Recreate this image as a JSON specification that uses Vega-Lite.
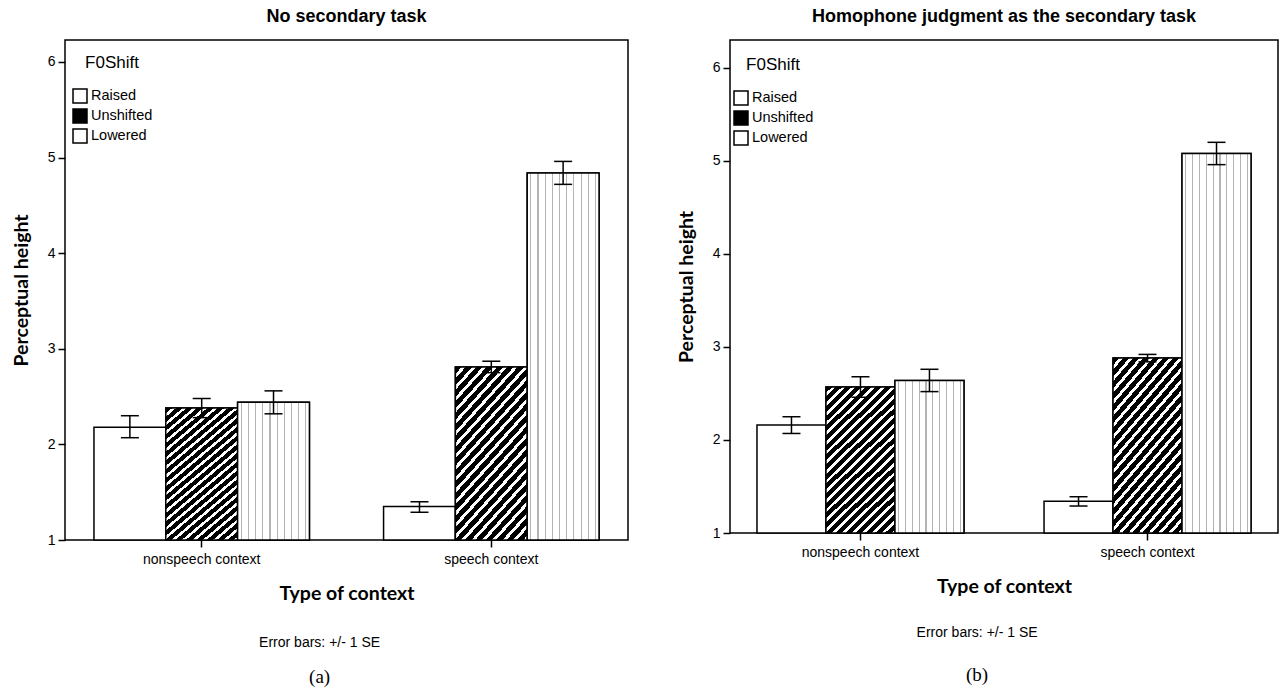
{
  "$schema": "https://vega.github.io/schema/vega-lite/v6.json",
  "padding": {"left": 10, "top": 7, "right": 2, "bottom": 2},
  "background": "white",
  "datasets": {
    "a": [
      {"context": "nonspeech context", "shift": "Raised", "mean": 2.18, "lo": 2.07, "hi": 2.30},
      {"context": "nonspeech context", "shift": "Unshifted", "mean": 2.38, "lo": 2.28, "hi": 2.48},
      {"context": "nonspeech context", "shift": "Lowered", "mean": 2.44, "lo": 2.32, "hi": 2.56},
      {"context": "speech context", "shift": "Raised", "mean": 1.35, "lo": 1.29, "hi": 1.40},
      {"context": "speech context", "shift": "Unshifted", "mean": 2.81, "lo": 2.75, "hi": 2.87},
      {"context": "speech context", "shift": "Lowered", "mean": 4.84, "lo": 4.72, "hi": 4.96}
    ],
    "b": [
      {"context": "nonspeech context", "shift": "Raised", "mean": 2.16, "lo": 2.07, "hi": 2.25},
      {"context": "nonspeech context", "shift": "Unshifted", "mean": 2.57, "lo": 2.46, "hi": 2.68},
      {"context": "nonspeech context", "shift": "Lowered", "mean": 2.64, "lo": 2.52, "hi": 2.76},
      {"context": "speech context", "shift": "Raised", "mean": 1.34, "lo": 1.29, "hi": 1.39},
      {"context": "speech context", "shift": "Unshifted", "mean": 2.88, "lo": 2.84, "hi": 2.92},
      {"context": "speech context", "shift": "Lowered", "mean": 5.08, "lo": 4.96, "hi": 5.20}
    ]
  },
  "spacing": 46,
  "resolve": {"scale": {"x": "independent", "y": "independent", "fill": "independent", "xOffset": "independent"}, "legend": {"fill": "independent"}},
  "hconcat": [
    {
      "title": {"text": "Error bars: +/- 1 SE", "subtitle": "(a)", "orient": "bottom", "anchor": "middle", "font": "Liberation Sans", "fontSize": 14, "fontWeight": "normal", "subtitleFont": "Liberation Serif", "subtitleFontSize": 19, "subtitleColor": "black", "subtitlePadding": 18, "offset": 33},
      "vconcat": [
        {
          "title": {"text": "No secondary task", "offset": 14},
          "width": 563,
          "height": 500,
          "data": {"name": "a"},
          "encoding": {
            "x": {"field": "context", "type": "nominal", "scale": {"paddingInner": 0.256, "paddingOuter": 0.1}, "axis": {"title": "Type of context", "labelAngle": 0}},
            "xOffset": {"field": "shift", "type": "nominal", "sort": ["Raised", "Unshifted", "Lowered"], "scale": {"domain": ["Raised", "Unshifted", "Lowered"], "paddingInner": 0, "paddingOuter": 0}}
          },
          "layer": [
            {
              "mark": {"type": "bar", "stroke": "black", "strokeWidth": 1.5},
              "encoding": {
                "y": {"field": "mean", "type": "quantitative", "scale": {"domain": [1, 6.23], "nice": false, "zero": false}, "axis": {"title": "Perceptual height", "values": [1, 2, 3, 4, 5, 6], "format": "d"}},
                "y2": {"datum": 1},
                "fill": {"field": "shift", "type": "nominal", "sort": ["Raised", "Unshifted", "Lowered"], "scale": {"domain": ["Raised", "Unshifted", "Lowered"], "range": ["white", "black", "white"]},
                  "legend": {"title": "F0Shift", "orient": "none", "legendX": 7, "legendY": 15}}
              }
            },
            {"transform": [{"filter": "datum.shift === 'Unshifted'"}], "mark": {"type": "bar", "stroke": "black", "strokeWidth": 1.5, "color": {"gradient": "linear", "x1": 0, "y1": 0, "x2": 0.552, "y2": 1.205, "stops": [
        {"offset": 0, "color": "#000"}, {"offset": 0.028, "color": "#000"}, {"offset": 0.028, "color": "#fff"}, {"offset": 0.0455, "color": "#fff"},
        {"offset": 0.0455, "color": "#000"}, {"offset": 0.0735, "color": "#000"}, {"offset": 0.0735, "color": "#fff"}, {"offset": 0.0909, "color": "#fff"},
        {"offset": 0.0909, "color": "#000"}, {"offset": 0.1189, "color": "#000"}, {"offset": 0.1189, "color": "#fff"}, {"offset": 0.1364, "color": "#fff"},
        {"offset": 0.1364, "color": "#000"}, {"offset": 0.1644, "color": "#000"}, {"offset": 0.1644, "color": "#fff"}, {"offset": 0.1818, "color": "#fff"},
        {"offset": 0.1818, "color": "#000"}, {"offset": 0.2098, "color": "#000"}, {"offset": 0.2098, "color": "#fff"}, {"offset": 0.2273, "color": "#fff"},
        {"offset": 0.2273, "color": "#000"}, {"offset": 0.2553, "color": "#000"}, {"offset": 0.2553, "color": "#fff"}, {"offset": 0.2727, "color": "#fff"},
        {"offset": 0.2727, "color": "#000"}, {"offset": 0.3007, "color": "#000"}, {"offset": 0.3007, "color": "#fff"}, {"offset": 0.3182, "color": "#fff"},
        {"offset": 0.3182, "color": "#000"}, {"offset": 0.3462, "color": "#000"}, {"offset": 0.3462, "color": "#fff"}, {"offset": 0.3636, "color": "#fff"},
        {"offset": 0.3636, "color": "#000"}, {"offset": 0.3916, "color": "#000"}, {"offset": 0.3916, "color": "#fff"}, {"offset": 0.4091, "color": "#fff"},
        {"offset": 0.4091, "color": "#000"}, {"offset": 0.4371, "color": "#000"}, {"offset": 0.4371, "color": "#fff"}, {"offset": 0.4545, "color": "#fff"},
        {"offset": 0.4545, "color": "#000"}, {"offset": 0.4825, "color": "#000"}, {"offset": 0.4825, "color": "#fff"}, {"offset": 0.5, "color": "#fff"},
        {"offset": 0.5, "color": "#000"}, {"offset": 0.528, "color": "#000"}, {"offset": 0.528, "color": "#fff"}, {"offset": 0.5455, "color": "#fff"},
        {"offset": 0.5455, "color": "#000"}, {"offset": 0.5735, "color": "#000"}, {"offset": 0.5735, "color": "#fff"}, {"offset": 0.5909, "color": "#fff"},
        {"offset": 0.5909, "color": "#000"}, {"offset": 0.6189, "color": "#000"}, {"offset": 0.6189, "color": "#fff"}, {"offset": 0.6364, "color": "#fff"},
        {"offset": 0.6364, "color": "#000"}, {"offset": 0.6644, "color": "#000"}, {"offset": 0.6644, "color": "#fff"}, {"offset": 0.6818, "color": "#fff"},
        {"offset": 0.6818, "color": "#000"}, {"offset": 0.7098, "color": "#000"}, {"offset": 0.7098, "color": "#fff"}, {"offset": 0.7273, "color": "#fff"},
        {"offset": 0.7273, "color": "#000"}, {"offset": 0.7553, "color": "#000"}, {"offset": 0.7553, "color": "#fff"}, {"offset": 0.7727, "color": "#fff"},
        {"offset": 0.7727, "color": "#000"}, {"offset": 0.8007, "color": "#000"}, {"offset": 0.8007, "color": "#fff"}, {"offset": 0.8182, "color": "#fff"},
        {"offset": 0.8182, "color": "#000"}, {"offset": 0.8462, "color": "#000"}, {"offset": 0.8462, "color": "#fff"}, {"offset": 0.8636, "color": "#fff"},
        {"offset": 0.8636, "color": "#000"}, {"offset": 0.8916, "color": "#000"}, {"offset": 0.8916, "color": "#fff"}, {"offset": 0.9091, "color": "#fff"},
        {"offset": 0.9091, "color": "#000"}, {"offset": 0.9371, "color": "#000"}, {"offset": 0.9371, "color": "#fff"}, {"offset": 0.9545, "color": "#fff"},
        {"offset": 0.9545, "color": "#000"}, {"offset": 0.9825, "color": "#000"}, {"offset": 0.9825, "color": "#fff"}, {"offset": 1, "color": "#fff"}
      ]}}, "encoding": {"y": {"field": "mean", "type": "quantitative"}, "y2": {"datum": 1}}},
            {"transform": [{"filter": "datum.shift === 'Lowered'"}], "mark": {"type": "bar", "stroke": "black", "strokeWidth": 1.5, "color": {"gradient": "linear", "x1": 0, "y1": 0, "x2": 1, "y2": 0, "stops": [
        {"offset": 0, "color": "#fff"}, {"offset": 0.042, "color": "#fff"}, {"offset": 0.042, "color": "#b4b4b4"}, {"offset": 0.058, "color": "#b4b4b4"}, {"offset": 0.058, "color": "#fff"},
        {"offset": 0.142, "color": "#fff"}, {"offset": 0.142, "color": "#b4b4b4"}, {"offset": 0.158, "color": "#b4b4b4"}, {"offset": 0.158, "color": "#fff"},
        {"offset": 0.242, "color": "#fff"}, {"offset": 0.242, "color": "#b4b4b4"}, {"offset": 0.258, "color": "#b4b4b4"}, {"offset": 0.258, "color": "#fff"},
        {"offset": 0.342, "color": "#fff"}, {"offset": 0.342, "color": "#b4b4b4"}, {"offset": 0.358, "color": "#b4b4b4"}, {"offset": 0.358, "color": "#fff"},
        {"offset": 0.442, "color": "#fff"}, {"offset": 0.442, "color": "#b4b4b4"}, {"offset": 0.458, "color": "#b4b4b4"}, {"offset": 0.458, "color": "#fff"},
        {"offset": 0.542, "color": "#fff"}, {"offset": 0.542, "color": "#b4b4b4"}, {"offset": 0.558, "color": "#b4b4b4"}, {"offset": 0.558, "color": "#fff"},
        {"offset": 0.642, "color": "#fff"}, {"offset": 0.642, "color": "#b4b4b4"}, {"offset": 0.658, "color": "#b4b4b4"}, {"offset": 0.658, "color": "#fff"},
        {"offset": 0.742, "color": "#fff"}, {"offset": 0.742, "color": "#b4b4b4"}, {"offset": 0.758, "color": "#b4b4b4"}, {"offset": 0.758, "color": "#fff"},
        {"offset": 0.842, "color": "#fff"}, {"offset": 0.842, "color": "#b4b4b4"}, {"offset": 0.858, "color": "#b4b4b4"}, {"offset": 0.858, "color": "#fff"},
        {"offset": 0.942, "color": "#fff"}, {"offset": 0.942, "color": "#b4b4b4"}, {"offset": 0.958, "color": "#b4b4b4"}, {"offset": 0.958, "color": "#fff"},
        {"offset": 1, "color": "#fff"}
      ]}}, "encoding": {"y": {"field": "mean", "type": "quantitative"}, "y2": {"datum": 1}}},
            {"mark": {"type": "rule", "stroke": "black", "strokeWidth": 1.5}, "encoding": {"y": {"field": "lo", "type": "quantitative"}, "y2": {"field": "hi"}}},
            {"mark": {"type": "tick", "color": "black", "thickness": 1.5, "size": 18, "opacity": 1}, "encoding": {"y": {"field": "lo", "type": "quantitative"}}},
            {"mark": {"type": "tick", "color": "black", "thickness": 1.5, "size": 18, "opacity": 1}, "encoding": {"y": {"field": "hi", "type": "quantitative"}}}
          ]
        }
      ]
    },
    {
      "title": {"text": "Error bars: +/- 1 SE", "subtitle": "(b)", "orient": "bottom", "anchor": "middle", "font": "Liberation Sans", "fontSize": 14, "fontWeight": "normal", "subtitleFont": "Liberation Serif", "subtitleFontSize": 19, "subtitleColor": "black", "subtitlePadding": 26, "offset": 30},
      "vconcat": [
        {
          "title": {"text": "Homophone judgment as the secondary task", "offset": 14},
          "width": 548,
          "height": 493,
          "data": {"name": "b"},
          "encoding": {
            "x": {"field": "context", "type": "nominal", "scale": {"paddingInner": 0.279, "paddingOuter": 0.094}, "axis": {"title": "Type of context", "labelAngle": 0}},
            "xOffset": {"field": "shift", "type": "nominal", "sort": ["Raised", "Unshifted", "Lowered"], "scale": {"domain": ["Raised", "Unshifted", "Lowered"], "paddingInner": 0, "paddingOuter": 0}}
          },
          "layer": [
            {
              "mark": {"type": "bar", "stroke": "black", "strokeWidth": 1.5},
              "encoding": {
                "y": {"field": "mean", "type": "quantitative", "scale": {"domain": [1, 6.3], "nice": false, "zero": false}, "axis": {"title": "Perceptual height", "values": [1, 2, 3, 4, 5, 6], "format": "d"}},
                "y2": {"datum": 1},
                "fill": {"field": "shift", "type": "nominal", "sort": ["Raised", "Unshifted", "Lowered"], "scale": {"domain": ["Raised", "Unshifted", "Lowered"], "range": ["white", "black", "white"]},
                  "legend": {"title": "F0Shift", "orient": "none", "legendX": 3, "legendY": 17}}
              }
            },
            {"transform": [{"filter": "datum.shift === 'Unshifted'"}], "mark": {"type": "bar", "stroke": "black", "strokeWidth": 1.5, "color": {"gradient": "linear", "x1": 0, "y1": 0, "x2": 0.552, "y2": 1.205, "stops": [
        {"offset": 0, "color": "#000"}, {"offset": 0.028, "color": "#000"}, {"offset": 0.028, "color": "#fff"}, {"offset": 0.0455, "color": "#fff"},
        {"offset": 0.0455, "color": "#000"}, {"offset": 0.0735, "color": "#000"}, {"offset": 0.0735, "color": "#fff"}, {"offset": 0.0909, "color": "#fff"},
        {"offset": 0.0909, "color": "#000"}, {"offset": 0.1189, "color": "#000"}, {"offset": 0.1189, "color": "#fff"}, {"offset": 0.1364, "color": "#fff"},
        {"offset": 0.1364, "color": "#000"}, {"offset": 0.1644, "color": "#000"}, {"offset": 0.1644, "color": "#fff"}, {"offset": 0.1818, "color": "#fff"},
        {"offset": 0.1818, "color": "#000"}, {"offset": 0.2098, "color": "#000"}, {"offset": 0.2098, "color": "#fff"}, {"offset": 0.2273, "color": "#fff"},
        {"offset": 0.2273, "color": "#000"}, {"offset": 0.2553, "color": "#000"}, {"offset": 0.2553, "color": "#fff"}, {"offset": 0.2727, "color": "#fff"},
        {"offset": 0.2727, "color": "#000"}, {"offset": 0.3007, "color": "#000"}, {"offset": 0.3007, "color": "#fff"}, {"offset": 0.3182, "color": "#fff"},
        {"offset": 0.3182, "color": "#000"}, {"offset": 0.3462, "color": "#000"}, {"offset": 0.3462, "color": "#fff"}, {"offset": 0.3636, "color": "#fff"},
        {"offset": 0.3636, "color": "#000"}, {"offset": 0.3916, "color": "#000"}, {"offset": 0.3916, "color": "#fff"}, {"offset": 0.4091, "color": "#fff"},
        {"offset": 0.4091, "color": "#000"}, {"offset": 0.4371, "color": "#000"}, {"offset": 0.4371, "color": "#fff"}, {"offset": 0.4545, "color": "#fff"},
        {"offset": 0.4545, "color": "#000"}, {"offset": 0.4825, "color": "#000"}, {"offset": 0.4825, "color": "#fff"}, {"offset": 0.5, "color": "#fff"},
        {"offset": 0.5, "color": "#000"}, {"offset": 0.528, "color": "#000"}, {"offset": 0.528, "color": "#fff"}, {"offset": 0.5455, "color": "#fff"},
        {"offset": 0.5455, "color": "#000"}, {"offset": 0.5735, "color": "#000"}, {"offset": 0.5735, "color": "#fff"}, {"offset": 0.5909, "color": "#fff"},
        {"offset": 0.5909, "color": "#000"}, {"offset": 0.6189, "color": "#000"}, {"offset": 0.6189, "color": "#fff"}, {"offset": 0.6364, "color": "#fff"},
        {"offset": 0.6364, "color": "#000"}, {"offset": 0.6644, "color": "#000"}, {"offset": 0.6644, "color": "#fff"}, {"offset": 0.6818, "color": "#fff"},
        {"offset": 0.6818, "color": "#000"}, {"offset": 0.7098, "color": "#000"}, {"offset": 0.7098, "color": "#fff"}, {"offset": 0.7273, "color": "#fff"},
        {"offset": 0.7273, "color": "#000"}, {"offset": 0.7553, "color": "#000"}, {"offset": 0.7553, "color": "#fff"}, {"offset": 0.7727, "color": "#fff"},
        {"offset": 0.7727, "color": "#000"}, {"offset": 0.8007, "color": "#000"}, {"offset": 0.8007, "color": "#fff"}, {"offset": 0.8182, "color": "#fff"},
        {"offset": 0.8182, "color": "#000"}, {"offset": 0.8462, "color": "#000"}, {"offset": 0.8462, "color": "#fff"}, {"offset": 0.8636, "color": "#fff"},
        {"offset": 0.8636, "color": "#000"}, {"offset": 0.8916, "color": "#000"}, {"offset": 0.8916, "color": "#fff"}, {"offset": 0.9091, "color": "#fff"},
        {"offset": 0.9091, "color": "#000"}, {"offset": 0.9371, "color": "#000"}, {"offset": 0.9371, "color": "#fff"}, {"offset": 0.9545, "color": "#fff"},
        {"offset": 0.9545, "color": "#000"}, {"offset": 0.9825, "color": "#000"}, {"offset": 0.9825, "color": "#fff"}, {"offset": 1, "color": "#fff"}
      ]}}, "encoding": {"y": {"field": "mean", "type": "quantitative"}, "y2": {"datum": 1}}},
            {"transform": [{"filter": "datum.shift === 'Lowered'"}], "mark": {"type": "bar", "stroke": "black", "strokeWidth": 1.5, "color": {"gradient": "linear", "x1": 0, "y1": 0, "x2": 1, "y2": 0, "stops": [
        {"offset": 0, "color": "#fff"}, {"offset": 0.042, "color": "#fff"}, {"offset": 0.042, "color": "#b4b4b4"}, {"offset": 0.058, "color": "#b4b4b4"}, {"offset": 0.058, "color": "#fff"},
        {"offset": 0.142, "color": "#fff"}, {"offset": 0.142, "color": "#b4b4b4"}, {"offset": 0.158, "color": "#b4b4b4"}, {"offset": 0.158, "color": "#fff"},
        {"offset": 0.242, "color": "#fff"}, {"offset": 0.242, "color": "#b4b4b4"}, {"offset": 0.258, "color": "#b4b4b4"}, {"offset": 0.258, "color": "#fff"},
        {"offset": 0.342, "color": "#fff"}, {"offset": 0.342, "color": "#b4b4b4"}, {"offset": 0.358, "color": "#b4b4b4"}, {"offset": 0.358, "color": "#fff"},
        {"offset": 0.442, "color": "#fff"}, {"offset": 0.442, "color": "#b4b4b4"}, {"offset": 0.458, "color": "#b4b4b4"}, {"offset": 0.458, "color": "#fff"},
        {"offset": 0.542, "color": "#fff"}, {"offset": 0.542, "color": "#b4b4b4"}, {"offset": 0.558, "color": "#b4b4b4"}, {"offset": 0.558, "color": "#fff"},
        {"offset": 0.642, "color": "#fff"}, {"offset": 0.642, "color": "#b4b4b4"}, {"offset": 0.658, "color": "#b4b4b4"}, {"offset": 0.658, "color": "#fff"},
        {"offset": 0.742, "color": "#fff"}, {"offset": 0.742, "color": "#b4b4b4"}, {"offset": 0.758, "color": "#b4b4b4"}, {"offset": 0.758, "color": "#fff"},
        {"offset": 0.842, "color": "#fff"}, {"offset": 0.842, "color": "#b4b4b4"}, {"offset": 0.858, "color": "#b4b4b4"}, {"offset": 0.858, "color": "#fff"},
        {"offset": 0.942, "color": "#fff"}, {"offset": 0.942, "color": "#b4b4b4"}, {"offset": 0.958, "color": "#b4b4b4"}, {"offset": 0.958, "color": "#fff"},
        {"offset": 1, "color": "#fff"}
      ]}}, "encoding": {"y": {"field": "mean", "type": "quantitative"}, "y2": {"datum": 1}}},
            {"mark": {"type": "rule", "stroke": "black", "strokeWidth": 1.5}, "encoding": {"y": {"field": "lo", "type": "quantitative"}, "y2": {"field": "hi"}}},
            {"mark": {"type": "tick", "color": "black", "thickness": 1.5, "size": 18, "opacity": 1}, "encoding": {"y": {"field": "lo", "type": "quantitative"}}},
            {"mark": {"type": "tick", "color": "black", "thickness": 1.5, "size": 18, "opacity": 1}, "encoding": {"y": {"field": "hi", "type": "quantitative"}}}
          ]
        }
      ]
    }
  ],
  "config": {
    "view": {"stroke": "black", "strokeWidth": 1.5},
    "title": {"font": "Liberation Sans", "fontSize": 18, "fontWeight": "bold", "color": "black", "anchor": "middle"},
    "axis": {"labelFont": "Liberation Sans", "labelFontSize": 14, "labelColor": "black", "tickColor": "black", "tickWidth": 1.5, "tickSize": 7, "domain": false, "grid": false, "titleFont": "Lato", "titleFontWeight": "bold", "titleFontSize": 19.5, "titleColor": "black"},
    "axisY": {"labelPadding": 3, "titlePadding": 16},
    "axisX": {"labelPadding": 5, "titlePadding": 18},
    "legend": {"symbolType": "square", "symbolSize": 196, "labelFont": "Liberation Sans", "labelFontSize": 14.5, "labelColor": "black", "titleFont": "Liberation Sans", "titleFontSize": 17, "titleFontWeight": "normal", "titleColor": "black", "titleAnchor": "middle", "titlePadding": 16, "rowPadding": 0, "labelOffset": 3, "padding": 0}
  }
}
